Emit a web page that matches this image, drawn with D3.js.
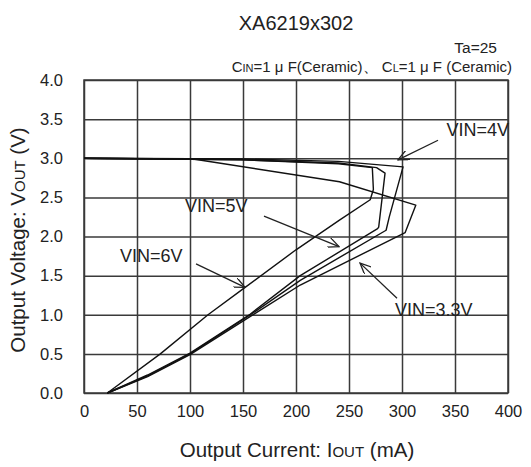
<!DOCTYPE html>
<html>
<head>
<meta charset="utf-8">
<script src="https://cdn.jsdelivr.net/npm/d3@7"></script>
<style>
  body { margin: 0; background: #fff; }
  text { font-family: "Liberation Sans", Arial, sans-serif; fill: #222; }
</style>
</head>
<body>
<div id="chart"></div>
<script>
// Curves: [output current mA, output voltage V]
const vin6V = [[0, 3.0], [150, 2.98], [240, 2.93], [272, 2.88], [273, 2.6], [270, 2.47],
  [241, 2.21], [200, 1.83], [152, 1.35], [117, 1.0], [72, 0.5], [22, 0]];
const vin5V = [[0, 3.0], [150, 2.98], [240, 2.94], [276, 2.88], [284, 2.81], [278, 2.12],
  [277, 2.10], [204, 1.5], [157, 1.01], [100, 0.51], [60, 0.23], [22, 0]];
const vin4V = [[0, 3.0], [150, 2.99], [240, 2.96], [301, 2.89], [288, 2.25], [285, 2.08],
  [204, 1.44], [157, 1.0], [100, 0.5], [60, 0.22], [22, 0]];
const vin33V = [[0, 3.0], [103, 2.99], [241, 2.70], [313, 2.40], [303, 2.05],
  [204, 1.38], [157, 0.98], [100, 0.49], [60, 0.21], [22, 0]];

const xTicks = [0, 50, 100, 150, 200, 250, 300, 350, 400];
const yTicks = [0, 0.5, 1.0, 1.5, 2.0, 2.5, 3.0, 3.5, 4.0];

// Annotations: label, text anchor [mA, V], arrow from, arrow to
const labels = ['VIN=6V', 'VIN=5V', 'VIN=4V', 'VIN=3.3V'];
const labelPos = [[34, 1.76], [95.3, 2.40], [342, 3.36], [293.4, 1.06]];
const arrowFrom = [[105.7, 1.65], [169.8, 2.26], [334, 3.23], [295.3, 1.21]];
const arrowTo = [[151.9, 1.35], [240.6, 1.87], [296.2, 2.98], [260.4, 1.66]];

const svgWidth = 531, svgHeight = 467;
const margin = { top: 80, right: 23, bottom: 74, left: 84 };
const width = svgWidth - margin.left - margin.right;
const height = svgHeight - margin.top - margin.bottom;

const svg = d3.select('#chart').append('svg')
  .attr('width', svgWidth)
  .attr('height', svgHeight);

// arrow head (open V)
svg.append('defs').append('marker')
  .attr('id', 'arrow')
  .attr('viewBox', '0 0 12 10')
  .attr('refX', 11).attr('refY', 5)
  .attr('markerWidth', 12).attr('markerHeight', 10)
  .attr('markerUnits', 'userSpaceOnUse')
  .attr('orient', 'auto')
  .append('path')
  .attr('d', 'M0,0 L11,5 L0,10')
  .attr('fill', 'none')
  .attr('stroke', '#222')
  .attr('stroke-width', 1.3);

const chart = svg.append('g')
  .attr('transform', `translate(${margin.left},${margin.top})`);

const x = d3.scaleLinear().domain([0, 400]).range([0, width]);
const y = d3.scaleLinear().domain([0, 4]).range([height, 0]);

// grid + tick labels
const xAxis = chart.append('g')
  .attr('transform', `translate(0,${height})`)
  .call(d3.axisBottom(x).tickValues(xTicks).tickSize(-height).tickPadding(12).tickFormat(d3.format('d')));
const yAxis = chart.append('g')
  .call(d3.axisLeft(y).tickValues(yTicks).tickSize(-width).tickPadding(21).tickFormat(d3.format('.1f')));

[xAxis, yAxis].forEach(ax => {
  ax.select('.domain').remove();
  ax.selectAll('line').attr('stroke', '#3a3a3a').attr('stroke-width', 1.5);
  ax.selectAll('text').style('font-size', '16.5px').attr('fill', '#222')
    .style('font-family', '"Liberation Sans", Arial, sans-serif');
});

chart.append('rect')
  .attr('width', width).attr('height', height)
  .attr('fill', 'none').attr('stroke', '#3a3a3a').attr('stroke-width', 1.5);

// curves
const line = d3.line().x(d => x(d[0])).y(d => y(d[1]));
[vin6V, vin5V, vin4V, vin33V].forEach(c => {
  chart.append('path')
    .datum(c)
    .attr('d', line)
    .attr('fill', 'none')
    .attr('stroke', '#111')
    .attr('stroke-width', 1.4)
    .attr('stroke-linejoin', 'round');
});

// annotations
labels.forEach((t, i) => {
  chart.append('line')
    .attr('x1', x(arrowFrom[i][0])).attr('y1', y(arrowFrom[i][1]))
    .attr('x2', x(arrowTo[i][0])).attr('y2', y(arrowTo[i][1]))
    .attr('stroke', '#222').attr('stroke-width', 1.3)
    .attr('marker-end', 'url(#arrow)');
  chart.append('text')
    .attr('x', x(labelPos[i][0]))
    .attr('y', y(labelPos[i][1]))
    .attr('dy', '0.35em')
    .style('font-size', '18px')
    .text(t);
});

// title and conditions
svg.append('text')
  .attr('x', 296).attr('y', 30)
  .attr('text-anchor', 'middle')
  .style('font-size', '20px')
  .text('XA6219x302');

svg.append('text')
  .attr('x', 497).attr('y', 53)
  .attr('text-anchor', 'end')
  .style('font-size', '15.5px')
  .text('Ta=25');

const cond = svg.append('text')
  .attr('x', 512).attr('y', 72)
  .attr('text-anchor', 'end')
  .style('font-size', '15px');
cond.append('tspan').text('C');
cond.append('tspan').style('font-size', '11px').text('IN');
cond.append('tspan').text('=1 μ F(Ceramic)、 C');
cond.append('tspan').style('font-size', '11px').text('L');
cond.append('tspan').text('=1 μ F (Ceramic)');

// axis labels
const xl = svg.append('text')
  .attr('x', 297).attr('y', 457)
  .attr('text-anchor', 'middle')
  .style('font-size', '20.5px');
xl.append('tspan').text('Output Current: I');
xl.append('tspan').style('font-size', '15px').text('OUT');
xl.append('tspan').text(' (mA)');

const yl = svg.append('text')
  .attr('transform', 'translate(25,240) rotate(-90)')
  .attr('text-anchor', 'middle')
  .style('font-size', '20.5px');
yl.append('tspan').text('Output Voltage: V');
yl.append('tspan').style('font-size', '15px').text('OUT');
yl.append('tspan').text(' (V)');
</script>
</body>
</html>
